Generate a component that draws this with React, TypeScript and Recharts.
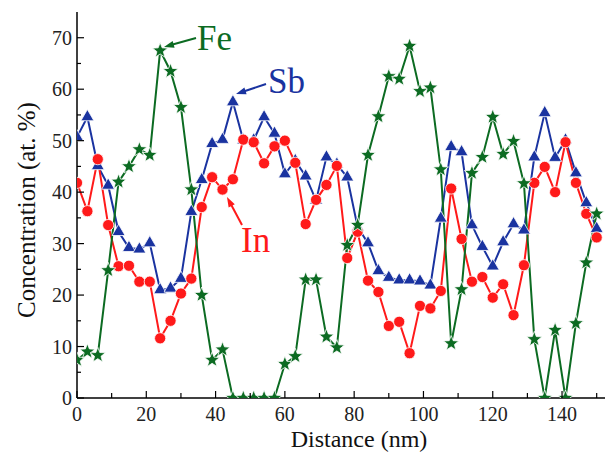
import React from 'react';
import { LineChart, Line, XAxis, YAxis } from 'recharts';

const distance = [0, 3, 6, 9, 12, 15, 18, 21, 24, 27, 30, 33, 36, 39, 42, 45, 48, 51, 54, 57, 60, 63, 66, 69, 72, 75, 78, 81, 84, 87, 90, 93, 96, 99, 102, 105, 108, 111, 114, 117, 120, 123, 126, 129, 132, 135, 138, 141, 144, 147, 150];
const fe = [7.4, 9.0, 8.3, 24.8, 42.0, 45.0, 48.3, 47.2, 67.5, 63.5, 56.5, 40.5, 20.0, 7.4, 9.4, 0, 0, 0, 0, 0, 6.6, 8.1, 23.0, 23.0, 11.9, 9.8, 29.7, 33.6, 47.2, 54.7, 62.5, 62.0, 68.4, 59.6, 60.3, 44.4, 10.6, 21.1, 43.7, 46.8, 54.6, 47.4, 49.9, 41.7, 11.4, 0, 13.2, 0, 14.5, 26.3, 35.8];
const sb = [50.7, 54.6, 45.1, 41.3, 32.3, 29.2, 28.9, 30.1, 21.0, 21.3, 23.2, 36.2, 42.4, 49.4, 50.2, 57.5, 50.1, 50.1, 54.6, 51.4, 43.5, 46.1, 43.1, 38.4, 46.8, 45.4, 42.9, 33.2, 30.1, 24.7, 23.4, 22.9, 22.9, 22.7, 21.9, 34.9, 48.8, 47.8, 33.6, 29.4, 25.6, 30.3, 33.8, 32.6, 46.8, 55.4, 46.7, 50.1, 43.7, 37.9, 32.9];
const inn = [41.8, 36.3, 46.4, 33.6, 25.6, 25.7, 22.6, 22.6, 11.6, 15.0, 20.3, 23.2, 37.1, 42.9, 40.5, 42.5, 50.2, 49.7, 45.6, 48.9, 50.0, 45.7, 33.8, 38.5, 41.4, 45.1, 27.2, 32.3, 22.8, 20.6, 14.0, 14.8, 8.7, 17.9, 17.4, 20.8, 40.7, 30.9, 22.6, 23.5, 19.5, 22.1, 16.1, 25.8, 41.8, 44.9, 40.0, 49.7, 41.8, 35.8, 31.2];

const xTicks = [0, 10, 20, 30, 40, 50, 60, 70, 80, 90, 100, 110, 120, 130, 140, 150];
const xMajor = [0, 20, 40, 60, 80, 100, 120, 140];
const topTicks = [30, 50, 70, 90, 110, 130, 150];
const yTicks = [0, 5, 10, 15, 20, 25, 30, 35, 40, 45, 50, 55, 60, 65, 70];
const yMajor = [0, 10, 20, 30, 40, 50, 60, 70];

const data = distance.map((d, i) => ({ d, fe: fe[i], sb: sb[i], inn: inn[i] }));

const FONT = 'Liberation Serif, Times New Roman, Times, serif';
const GREEN = '#0c6b22';
const BLUE = '#1a33a0';
const RED = '#ff1a1a';

const BottomTick = (props: any) => {
  const { x, y, payload } = props;
  const v = payload.value;
  const major = xMajor.includes(v);
  return (
    <g>
      <line x1={x} x2={x} y1={y} y2={y - (major ? 7 : 5)} stroke="#000" strokeWidth={1.2} />
      {major && (
        <text x={x} y={y + 23} textAnchor="middle" fontSize={20} style={{ fontFamily: FONT }} fill="#222">{v}</text>
      )}
    </g>
  );
};

const TopTick = (props: any) => {
  const { x, y } = props;
  return <line x1={x} x2={x} y1={y} y2={y + 4} stroke="#000" strokeWidth={1.2} />;
};

const LeftTick = (props: any) => {
  const { x, y, payload } = props;
  const v = payload.value;
  const major = yMajor.includes(v);
  return (
    <g>
      <line x1={x} x2={x + (major ? 7 : 4)} y1={y} y2={y} stroke="#000" strokeWidth={1.2} />
      {major && (
        <text x={x - 5} y={y} dy="0.35em" textAnchor="end" fontSize={20} style={{ fontFamily: FONT }} fill="#222">{v}</text>
      )}
    </g>
  );
};

const starPoints = (cx: number, cy: number, R: number, r: number) => {
  const pts: string[] = [];
  for (let k = 0; k < 10; k++) {
    const rad = k % 2 === 0 ? R : r;
    const a = -Math.PI / 2 + (k * Math.PI) / 5;
    pts.push(`${cx + rad * Math.cos(a)},${cy + rad * Math.sin(a)}`);
  }
  return pts.join(' ');
};

const StarDot = (p: any) => {
  if (p.cx == null || p.cy == null) return <g key={`s-${p.index}`} />;
  return <polygon key={`s-${p.index}`} points={starPoints(p.cx, p.cy, 8, 3.4)} fill={GREEN} stroke="#fff" strokeWidth={0.8} />;
};

const TriDot = (p: any) => {
  if (p.cx == null || p.cy == null) return <g key={`t-${p.index}`} />;
  const s = 13;
  const h = s * 0.866;
  const pts = `${p.cx},${p.cy - (2 * h) / 3} ${p.cx - s / 2},${p.cy + h / 3} ${p.cx + s / 2},${p.cy + h / 3}`;
  return <polygon key={`t-${p.index}`} points={pts} fill={BLUE} stroke="#fff" strokeWidth={0.8} />;
};

const CircDot = (p: any) => {
  if (p.cx == null || p.cy == null) return <g key={`c-${p.index}`} />;
  return <circle key={`c-${p.index}`} cx={p.cx} cy={p.cy} r={5.6} fill={RED} stroke="#fff" strokeWidth={0.8} />;
};

const Arrow = ({ x1, y1, x2, y2, color }: any) => {
  const dx = x2 - x1;
  const dy = y2 - y1;
  const len = Math.sqrt(dx * dx + dy * dy);
  const ux = dx / len;
  const uy = dy / len;
  const hl = 10;
  const hw = 3.5;
  const bx = x2 - ux * hl;
  const by = y2 - uy * hl;
  const pts = `${x2},${y2} ${bx - uy * hw},${by + ux * hw} ${bx + uy * hw},${by - ux * hw}`;
  return (
    <g>
      <line x1={x1} y1={y1} x2={bx + ux * 2} y2={by + uy * 2} stroke={color} strokeWidth={2} />
      <polygon points={pts} fill={color} />
    </g>
  );
};

export default function App() {
  return (
    <div style={{ position: 'absolute', left: 0, top: 0, width: 614, height: 454, background: '#fff', fontFamily: FONT }}>
      <LineChart width={614} height={454} data={data} margin={{ top: 12, right: 9, bottom: 0, left: 0 }}>
        <XAxis
          dataKey="d"
          type="number"
          domain={[0, 152.4]}
          ticks={xTicks}
          interval={0}
          height={56}
          tickSize={0}
          tickMargin={0}
          tickLine={false}
          axisLine={{ stroke: '#000', strokeWidth: 1.5 }}
          tick={BottomTick}
          allowDataOverflow
        />
        <XAxis
          xAxisId="top"
          orientation="top"
          type="number"
          domain={[0, 152.4]}
          ticks={topTicks}
          interval={0}
          height={0}
          tickSize={0}
          tickMargin={0}
          tickLine={false}
          axisLine={{ stroke: '#000', strokeWidth: 1.5 }}
          tick={TopTick}
          allowDataOverflow
        />
        <YAxis
          type="number"
          domain={[0, 75]}
          ticks={yTicks}
          interval={0}
          width={77}
          tickSize={0}
          tickMargin={0}
          tickLine={false}
          axisLine={{ stroke: '#000', strokeWidth: 1.5 }}
          tick={LeftTick}
          allowDataOverflow
        />
        <YAxis
          yAxisId="right"
          orientation="right"
          type="number"
          domain={[0, 75]}
          width={0}
          tick={false}
          tickLine={false}
          axisLine={{ stroke: '#000', strokeWidth: 1.5 }}
        />
        <Line dataKey="sb" stroke={BLUE} strokeWidth={2} dot={TriDot} isAnimationActive={false} />
        <Line dataKey="inn" stroke={RED} strokeWidth={2} dot={CircDot} isAnimationActive={false} />
        <Line dataKey="fe" stroke={GREEN} strokeWidth={2} dot={StarDot} isAnimationActive={false} />
      </LineChart>
      <svg width={614} height={454} style={{ position: 'absolute', left: 0, top: 0, pointerEvents: 'none', fontFamily: FONT }}>
        <text x={359} y={447} textAnchor="middle" fontSize={24} fill="#111">Distance (nm)</text>
        <text transform="translate(35,210) rotate(-90)" x={0} y={0} textAnchor="middle" fontSize={25} fill="#111">Concentration (at. %)</text>
        <text x={197} y={50} fontSize={35} fill={GREEN}>Fe</text>
        <Arrow x1={196} y1={38} x2={164} y2={47} color={GREEN} />
        <text x={268} y={93} fontSize={35} fill={BLUE}>Sb</text>
        <Arrow x1={266} y1={84} x2={236} y2={94} color={BLUE} />
        <text x={241} y={252} fontSize={35} fill={RED}>In</text>
        <Arrow x1={242} y1={225} x2={227} y2={197} color={RED} />
      </svg>
    </div>
  );
}
